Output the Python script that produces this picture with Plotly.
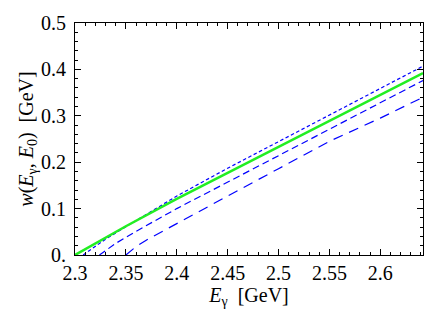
import plotly.graph_objects as go

# E_gamma values (GeV) and w(E_gamma, E0) (GeV)
x_green = [2.30, 2.35, 2.40, 2.45, 2.50, 2.55, 2.60, 2.642]
y_green = [0.0, 0.062, 0.121, 0.177, 0.233, 0.289, 0.345, 0.392]

x_short = [2.308, 2.32, 2.33, 2.35, 2.40, 2.45, 2.50, 2.55, 2.60, 2.642]
y_short = [0.0, 0.019, 0.034, 0.061, 0.127, 0.187, 0.244, 0.302, 0.359, 0.407]

x_medium = [2.324, 2.33, 2.34, 2.35, 2.36, 2.40, 2.45, 2.50, 2.55, 2.60, 2.642]
y_medium = [0.0, 0.010, 0.025, 0.038, 0.051, 0.100, 0.157, 0.215, 0.272, 0.328, 0.376]

x_long = [2.350, 2.36, 2.37, 2.40, 2.45, 2.50, 2.55, 2.60, 2.642]
y_long = [0.0, 0.018, 0.032, 0.068, 0.127, 0.186, 0.245, 0.295, 0.340]

x_ticks = [2.3, 2.35, 2.4, 2.45, 2.5, 2.55, 2.6]
x_ticktext = ['2.3', '2.35', '2.4', '2.45', '2.5', '2.55', '2.6']
y_ticks = [0, 0.1, 0.2, 0.3, 0.4, 0.5]
y_ticktext = ['0.', '0.1', '0.2', '0.3', '0.4', '0.5']

fnt = 'Liberation Serif'

fig = go.Figure()
fig.add_trace(go.Scatter(x=x_long, y=y_long, mode='lines',
                         line=dict(color='#0000ff', width=1.2, dash='10px,7px')))
fig.add_trace(go.Scatter(x=x_medium, y=y_medium, mode='lines',
                         line=dict(color='#0000ff', width=1.2, dash='7px,4px')))
fig.add_trace(go.Scatter(x=x_short, y=y_short, mode='lines',
                         line=dict(color='#0000ff', width=1.2, dash='3.5px,2.5px')))
fig.add_trace(go.Scatter(x=x_green, y=y_green, mode='lines',
                         line=dict(color='#22ee22', width=2.5)))

axis_common = dict(
    showline=True, linecolor='black', linewidth=1, mirror='allticks',
    ticks='inside', ticklen=6, tickcolor='black', tickwidth=1,
    showgrid=False, zeroline=False,
    tickfont=dict(family=fnt, size=20, color='black'),
)

fig.update_layout(
    width=436, height=310,
    margin=dict(l=75, r=13, t=13, b=54),
    plot_bgcolor='white', paper_bgcolor='white',
    showlegend=False,
    font=dict(family=fnt, size=20, color='black'),
    xaxis=dict(
        range=[2.3, 2.642], tickmode='array', tickvals=x_ticks, ticktext=x_ticktext,
        minor=dict(dtick=0.01, ticklen=3, ticks='inside', tickcolor='black'),
        title=dict(text='<i>E</i><sub>γ</sub>&nbsp;&nbsp;[GeV]', font=dict(family=fnt, size=20), standoff=0),
        **axis_common,
    ),
    yaxis=dict(
        range=[0, 0.5], tickmode='array', tickvals=y_ticks, ticktext=y_ticktext,
        minor=dict(dtick=0.02, ticklen=3, ticks='inside', tickcolor='black'),
        ticklabelstandoff=4,
        title=dict(text='<i>w</i>(<i>E</i><sub>γ</sub>,&nbsp;<i>E</i><sub>0</sub>)&nbsp;&nbsp;[GeV]',
                   font=dict(family=fnt, size=20), standoff=2),
        **axis_common,
    ),
)

# the page body has an 8px default margin; drop it so the figure sits at 0,0
fig.write_html('out.html', config={'displayModeBar': False},
               post_script="document.body.style.margin='0';")
